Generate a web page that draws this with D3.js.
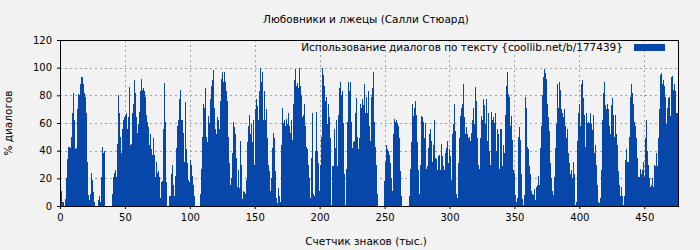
<!DOCTYPE html>
<html>
<head>
<meta charset="utf-8">
<script src="https://cdn.jsdelivr.net/npm/d3@7"></script>
<style>
  html, body { margin: 0; padding: 0; background: #f2f2f2; }
  svg { display: block; font-family: "DejaVu Sans", sans-serif; }
</style>
</head>
<body>
<svg id="chart" width="700" height="250"></svg>
<script>
// dialog share (%) per sample, left to right
const part1 = [15, 11, 3, 3, 0, 5, 20, 34, 43, 43, 42, 50, 67, 82, 62, 41, 42, 70, 81, 80,
  88, 93, 93, 88, 82, 79, 67, 32, 8, 4, 9, 24, 19, 10, 3, 0, 0, 0, 4, 7,
  3, 21, 43, 38, 40, 0, 0, 0, 0, 0, 0, 0, 9, 21, 24, 26, 21, 45, 80, 67,
  50, 38, 56, 62, 64, 66, 67, 56, 64, 86, 44, 45, 67, 74, 91, 82, 64, 53, 59, 68,
  83, 92, 84, 85, 83, 79, 66, 61, 57, 44, 52, 41, 37, 49, 37, 21, 32, 24, 25, 21, 6];
const part2 = [17, 18, 56, 89, 61, 17, 0, 0, 7, 7, 23, 30, 15, 7, 22, 42, 58, 62, 77, 84,
  62, 62, 53, 32, 75, 41, 31, 19, 17, 33, 30, 22, 15, 7, 0, 0, 0, 0, 0,
  9, 27, 50, 74, 71, 85, 50, 46, 65, 60, 77, 87, 91, 98, 71, 56, 52, 64, 62, 56,
  76, 92, 97, 90, 97, 90, 83, 76, 50, 31, 15, 20, 38, 61, 57, 52, 35, 14, 26, 13,
  47, 30, 5, 11, 10, 9, 19, 46, 58, 66, 52, 59, 46, 62, 30, 70, 77, 72, 62, 83,
  100, 90, 97, 62];
const part3 = [83, 62, 70, 49, 30, 25, 11, 20, 42, 53, 49, 25, 6, 2, 13, 7, 3, 44, 71, 60,
  62, 58, 63, 59, 67, 58, 53, 62, 48, 74, 91, 99, 87, 89, 85, 100, 87, 80, 64, 66,
  74, 58, 43, 41, 30, 20, 6, 35, 67, 9, 7, 40, 68, 40, 31, 11, 30, 50, 100, 95,
  87, 76, 79, 59, 74, 64, 49, 1, 29, 29, 56, 42, 62, 29, 66, 85, 90, 80, 83, 60,
  23, 1, 27, 61, 90, 83, 90, 61, 42, 46, 47, 67, 78, 50, 41, 49, 74, 71, 77, 73,
  88, 67, 79];
const part4 = [67, 83, 58, 47, 79, 85, 97, 61, 43, 30, 9, 0, 0, 0, 0, 0, 0, 18, 32, 44,
  41, 40, 37, 31, 20, 11, 52, 63, 61, 62, 60, 58, 49, 25, 7, 0, 0, 0, 0, 0,
  0, 0, 7, 27, 46, 74, 65, 71, 76, 66, 46, 26, 9, 30, 65, 64, 61, 49, 60, 27,
  29, 42, 52, 56, 47, 32, 44, 62, 35, 34, 26, 36, 37, 26, 45, 36, 29, 26, 38, 42,
  47, 31, 41, 36, 19, 52, 59, 74, 54, 9, 6, 31, 49, 65, 71, 74, 88, 64, 52, 57,
  52, 49, 50];
const part5 = [47, 53, 62, 71, 59, 86, 76, 49, 30, 27, 49, 65, 62, 77, 73, 59, 77, 47, 67, 40,
  30, 68, 62, 64, 60, 67, 40, 56, 52, 27, 56, 56, 29, 44, 38, 66, 87, 97, 81, 79,
  58, 65, 48, 26, 24, 8, 3, 6, 50, 57, 48, 23, 5, 1, 8, 79, 71, 43, 41, 29,
  23, 11, 9, 8, 12, 4, 14, 15, 22, 15, 42, 58, 80, 93, 99, 96, 92, 74, 64, 54,
  31, 20, 11, 8, 21, 42, 59, 88, 71, 90, 84, 70, 67, 64, 70, 58, 49, 56, 38, 31,
  23, 26, 20];
const part6 = [32, 23, 1, 3, 47, 67, 74, 58, 88, 91, 78, 66, 43, 67, 60, 61, 60, 67, 59, 55,
  66, 38, 44, 30, 15, 3, 2, 6, 26, 62, 82, 90, 73, 70, 74, 70, 58, 52, 73, 78,
  66, 50, 66, 52, 44, 25, 15, 7, 14, 7, 1, 7, 33, 41, 32, 32, 50, 79, 88, 82,
  74, 61, 58, 49, 35, 21, 21, 27, 23, 26, 32, 21, 49, 62, 40, 30, 20, 14, 15, 20,
  14, 30, 29, 38, 29, 49, 70, 95, 96, 88, 91, 87, 79, 59, 71, 78, 79, 65, 93, 94,
  84, 88, 83, 67, 67];

const values = [...part1, ...part2, ...part3, ...part4, ...part5, ...part6];
const xTicks = [0, 50, 100, 150, 200, 250, 300, 350, 400, 450];
const yTicks = [0, 20, 40, 60, 80, 100, 120];
const xMax = 476;      // thousand characters at the right edge
const yMax = 120;

const title = "Любовники и лжецы (Салли Стюард)";
const legendLabel = "Использование диалогов по тексту {coollib.net/b/177439}";
const xLabel = "Счетчик знаков (тыс.)";
const yLabel = "% диалогов";

const svg = d3.select("#chart");
const width = 700, height = 250;
const margin = { top: 40, right: 22, bottom: 44, left: 60 };
const innerWidth = width - margin.left - margin.right;
const innerHeight = height - margin.top - margin.bottom;
const barColor = "#0747a9";

const step = xMax / values.length;
const x = d3.scaleLinear().domain([0, xMax]).range([0, innerWidth]);
const y = d3.scaleLinear().domain([0, yMax]).range([innerHeight, 0]);

const g = svg.append("g").attr("transform", `translate(${margin.left},${margin.top})`);

// grid
g.append("g")
  .selectAll("line")
  .data(xTicks.filter((d) => d > 0))
  .join("line")
  .attr("x1", (d) => Math.round(x(d)) + 0.5)
  .attr("x2", (d) => Math.round(x(d)) + 0.5)
  .attr("y1", 0)
  .attr("y2", innerHeight)
  .attr("stroke", "#a0a0a0")
  .attr("stroke-dasharray", "2,3");
g.append("g")
  .selectAll("line")
  .data(yTicks.filter((d) => d > 0 && d < yMax))
  .join("line")
  .attr("x1", 0)
  .attr("x2", innerWidth)
  .attr("y1", (d) => Math.round(y(d)) + 0.5)
  .attr("y2", (d) => Math.round(y(d)) + 0.5)
  .attr("stroke", "#a0a0a0")
  .attr("stroke-dasharray", "2,3");

// bars
const bw = x(step) - x(0);
g.append("g")
  .attr("shape-rendering", "crispEdges")
  .selectAll("rect")
  .data(values)
  .join("rect")
  .attr("x", (d, i) => x(i * step))
  .attr("y", (d) => y(d))
  .attr("width", bw + 0.3)
  .attr("height", (d) => innerHeight - y(d))
  .attr("fill", barColor);

// axes
const xAxis = g.append("g")
  .attr("transform", `translate(0,${innerHeight})`)
  .call(d3.axisBottom(x).tickValues(xTicks).tickSize(3).tickSizeOuter(0).tickPadding(5));
const yAxis = g.append("g")
  .call(d3.axisLeft(y).tickValues(yTicks).tickSize(3).tickSizeOuter(0).tickPadding(5));
[xAxis, yAxis].forEach((a) => {
  a.select(".domain").remove();
  a.selectAll("text").attr("font-size", 10).attr("font-family", "DejaVu Sans").attr("fill", "#000");
  a.selectAll("line").attr("stroke", "#000");
});

// frame
g.append("rect")
  .attr("x", 0.5).attr("y", 0.5)
  .attr("width", innerWidth).attr("height", innerHeight)
  .attr("fill", "none").attr("stroke", "#000");

// legend
g.append("text")
  .attr("x", 563).attr("y", 11)
  .attr("text-anchor", "end")
  .attr("font-size", 10.5)
  .text(legendLabel);
g.append("rect")
  .attr("x", 574).attr("y", 4)
  .attr("width", 31).attr("height", 7)
  .attr("fill", barColor);

// titles
svg.append("text")
  .attr("x", 366).attr("y", 23)
  .attr("text-anchor", "middle")
  .attr("font-size", 10.5)
  .text(title);
svg.append("text")
  .attr("x", 366).attr("y", 245)
  .attr("text-anchor", "middle")
  .attr("font-size", 10.5)
  .text(xLabel);
svg.append("text")
  .attr("transform", "translate(12,123) rotate(-90)")
  .attr("text-anchor", "middle")
  .attr("font-size", 10.5)
  .text(yLabel);
</script>
</body>
</html>
